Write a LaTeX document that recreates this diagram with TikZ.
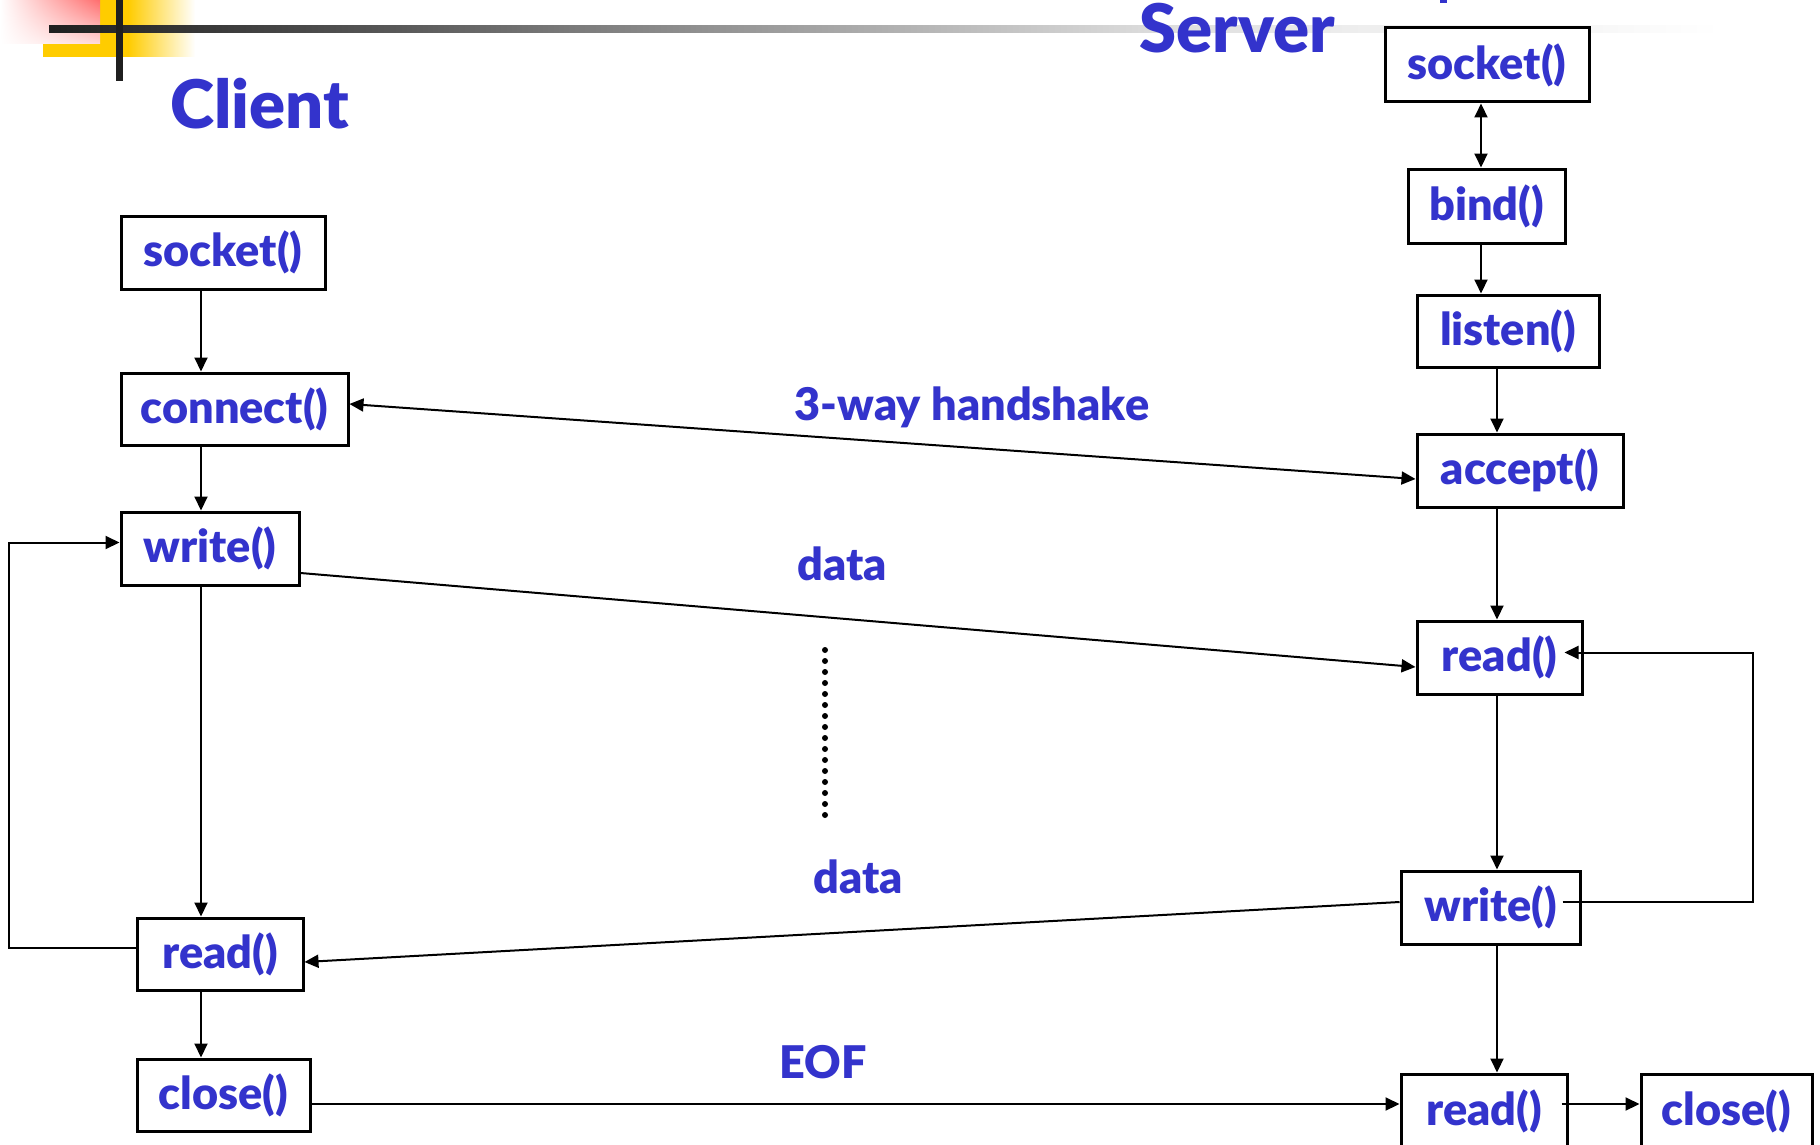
\documentclass[tikz,border=0pt]{standalone}
\usepackage{fontspec}
\setmainfont{Lato}[BoldFont={Lato Black}]
\usetikzlibrary{arrows.meta,shadings}

\definecolor{ink}{RGB}{51,51,204}
\definecolor{ylw}{RGB}{255,204,0}
\definecolor{pnk}{RGB}{255,110,110}

% header bar: dark on the left, fading out to the right
\pgfdeclarehorizontalshading{barshade}{100bp}{color(0bp)=(black!88); color(25bp)=(black!88); color(35.5bp)=(black!65); color(41.5bp)=(black!50); color(57.9bp)=(black!14); color(63.9bp)=(black!7); color(71.4bp)=(black!3); color(75bp)=(white); color(100bp)=(white)}
% yellow corner block fading to white
\pgfdeclarehorizontalshading{yelshade}{100bp}{color(0bp)=(ylw); color(53bp)=(ylw); color(75bp)=(white); color(100bp)=(white)}

\newcommand\fnbox{\fontsize{45}{50}\selectfont\bfseries}
\newcommand\fntitle{\fontsize{67}{72}\selectfont\bfseries}

\begin{document}
\begin{tikzpicture}[x=1pt,y=-1pt,
  box/.style={draw=black, line width=3pt, fill=white, inner sep=0pt,
              text=ink, font=\fnbox},
  lbl/.style={text=ink, font=\fnbox, anchor=base, inner sep=0pt},
  ttl/.style={text=ink, font=\fntitle, anchor=base, inner sep=0pt},
  arr/.style={line width=2pt, -{Triangle[length=14pt,width=13pt]}},
  darr/.style={line width=2pt, {Triangle[length=14pt,width=13pt]}-{Triangle[length=14pt,width=13pt]}},
  dots/.style={line width=6pt, line cap=round, dash pattern=on 0pt off 11pt}]

\clip (0,0) rectangle (1820,1145);
\fill[white] (0,0) rectangle (1820,1145);

% corner ornament
\shade[shading=yelshade] (43,0) rectangle (195,57);
\shade[upper right=pnk, upper left=white, lower right=pnk!25, lower left=white] (0,0) rectangle (100,44);
\shade[shading=barshade] (49,26) rectangle (1720,33);
\fill[black!88] (116,0) rectangle (123,81);
\fill[ink] (1440,0) rectangle (1447,3);

% titles
\node[ttl] (tclient) at (260,129) {Client};
\node[ttl] (tserver) at (1237,53) {Server};

% client calls
\node[box, minimum width=204, minimum height=73] (csock)  at (223,252.5) {socket()};
\node[box, minimum width=227, minimum height=72] (cconn)  at (234.5,409) {connect()};
\node[box, minimum width=178, minimum height=73] (cwrite) at (210,548.5) {write()};
\node[box, minimum width=166, minimum height=72] (cread)  at (220,954) {read()};
\node[box, minimum width=173, minimum height=72] (cclose) at (223.5,1095) {close()};

% server calls
\node[box, minimum width=204, minimum height=74] (ssock)  at (1487,65) {socket()};
\node[box, minimum width=157, minimum height=74] (sbind)  at (1486.5,206) {bind()};
\node[box, minimum width=182, minimum height=72] (slist)  at (1508,331) {listen()};
\node[box, minimum width=206, minimum height=73] (sacc)   at (1520,470.5) {accept()};
\node[box, minimum width=165, minimum height=73] (sread)  at (1499.5,657.5) {read()};
\node[box, minimum width=179, minimum height=73] (swrite) at (1490.5,907.5) {write()};
\node[box, minimum width=166, minimum height=75] (sread2) at (1484,1111.5) {read()};
\node[box, minimum width=171, minimum height=75] (sclose) at (1726.5,1111.5) {close()};

% vertical flow
\coordinate (cx) at (201,0);
\coordinate (sx1) at (1481,0);
\coordinate (sx2) at (1497,0);
\draw[arr] (csock.south -| cx) -- (cconn.north -| cx);
\draw[arr] (cconn.south -| cx) -- (cwrite.north -| cx);
\draw[arr] (cwrite.south -| cx) -- (cread.north -| cx);
\draw[arr] (cread.south -| cx) -- (cclose.north -| cx);

\draw[darr] (ssock.south -| sx1) -- (sbind.north -| sx1);
\draw[arr] (sbind.south -| sx1) -- (slist.north -| sx1);
\draw[arr] (slist.south -| sx2) -- (sacc.north -| sx2);
\draw[arr] (sacc.south -| sx2) -- (sread.north -| sx2);
\draw[arr] (sread.south -| sx2) -- (swrite.north -| sx2);
\draw[arr] (swrite.south -| sx2) -- (sread2.north -| sx2);
\draw[arr] ([xshift=-7pt,yshift=7.5pt]sread2.east) -- ([yshift=7.5pt]sclose.west);

% client loop read -> write
\coordinate (cl1) at ([yshift=6pt]cread.west);
\coordinate (cl2) at ([yshift=6pt]cwrite.west);
\coordinate (lx) at (9,0);
\draw[arr] (cl1) -- (cl1 -| lx) -- (cl2 -| lx) -- (cl2);

% server loop write -> read
\coordinate (sl1) at ([xshift=-19pt,yshift=6pt]swrite.east);
\coordinate (sl2) at ([xshift=-19pt,yshift=5pt]sread.east);
\coordinate (rx) at (1753,0);
\draw[arr] (sl1) -- (sl1 -| rx) -- (sl2 -| rx) -- (sl2);

% exchanges between the two sides
\draw[darr] ([yshift=5pt]cconn.east) -- ([yshift=-8.5pt]sacc.west);
\draw[arr] ([yshift=-24.5pt]cwrite.east) -- ([yshift=-9.5pt]sread.west);
\draw[arr] ([yshift=5.5pt]swrite.west) -- ([yshift=-8pt]cread.east);
\draw[arr] ([yshift=-9pt]cclose.east) -- ([yshift=7.5pt]sread2.west);

\node[lbl] (lhs)  at (972,420) {3-way handshake};
\node[lbl] (ld1)  at (842.5,580) {data};
\node[lbl] (ld2)  at (858,893) {data};
\node[lbl] (leof) at (823,1078) {EOF};

% ellipsis between the data exchanges
\coordinate (d1) at (825,650);
\coordinate (d2) at (825,816);
\draw[dots] (d1) -- (d2);

\end{tikzpicture}
\end{document}
